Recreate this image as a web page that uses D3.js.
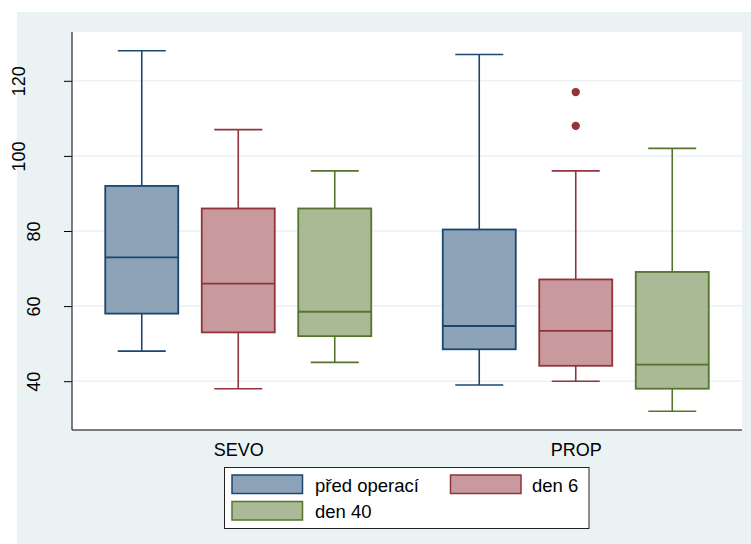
<!DOCTYPE html>
<html>
<head>
<meta charset="utf-8">
<script src="https://cdn.jsdelivr.net/npm/d3@7/dist/d3.min.js"></script>
<style>
  html, body { margin: 0; padding: 0; background: #ffffff; }
  svg { display: block; font-family: "Liberation Sans", Arial, Helvetica, sans-serif; }
</style>
</head>
<body>
<svg id="chart" width="751" height="544"></svg>
<script>
// ---- data ----
const categories = ["SEVO", "PROP"];
const seriesNames = ["před operací", "den 6", "den 40"];
// each entry: [lower whisker, Q1, median, Q3, upper whisker] per category
const predOperaci = [[48, 58, 73, 92, 128], [39, 48.5, 54.7, 80.4, 127]];
const den6 = [[38, 53, 66, 86, 107], [40, 44.1, 53.4, 67.1, 96]];
const den40 = [[45, 52, 58.5, 86, 96], [32, 38, 44.4, 69.1, 102]];
// outside values per category
const predOperaciOutliers = [[], []];
const den6Outliers = [[], [108, 117]];
const den40Outliers = [[], []];
const yTicks = [40, 60, 80, 100, 120];

const seriesStats = [predOperaci, den6, den40];
const seriesOutliers = [predOperaciOutliers, den6Outliers, den40Outliers];
const strokeColors = ["#1a476f", "#90353b", "#55752f"];
const fillColors = ["#8da3b8", "#c89a9d", "#aab996"];

const svg = d3.select("#chart");
const W = 751, H = 544;
const plot = { left: 72, right: 742, top: 32, bottom: 430 };

// outer graph region background
svg.append("rect").attr("x", 17).attr("y", 12).attr("width", W - 17).attr("height", H - 12)
  .attr("fill", "#eaf2f3");
// plot region
svg.append("rect").attr("x", plot.left).attr("y", plot.top)
  .attr("width", plot.right - plot.left).attr("height", plot.bottom - plot.top)
  .attr("fill", "#ffffff");

const y = d3.scaleLinear().domain([27, 133]).range([plot.bottom, plot.top]);
const x0 = d3.scalePoint().domain(categories).range([plot.left, plot.right]).padding(0.4926);
const x1 = d3.scaleBand().domain(seriesNames).range([-133, 133]).paddingInner(0.2435).paddingOuter(0);

// gridlines
svg.append("g").selectAll("line").data(yTicks).join("line")
  .attr("x1", plot.left).attr("x2", plot.right)
  .attr("y1", d => y(d)).attr("y2", d => y(d))
  .attr("stroke", "#eaf2f3").attr("stroke-width", 1.5);

// y axis
const yAxis = d3.axisLeft(y).tickValues(yTicks).tickSize(8).tickFormat(d3.format("d"));
const gy = svg.append("g").attr("transform", `translate(${plot.left},0)`).call(yAxis);
gy.select(".domain").remove();
gy.selectAll(".tick line").attr("stroke", "#000").attr("stroke-width", 1);
gy.selectAll(".tick text")
  .attr("font-size", "18px").attr("fill", "#000")
  .attr("text-anchor", "middle").attr("dy", null).attr("x", null)
  .attr("transform", d => `translate(${String(d).length >= 3 ? -47 : -32},0) rotate(-90)`);

// axis lines
svg.append("line").attr("x1", plot.left).attr("x2", plot.left).attr("y1", plot.top).attr("y2", plot.bottom)
  .attr("stroke", "#000").attr("stroke-width", 1);
svg.append("line").attr("x1", plot.left).attr("x2", plot.right).attr("y1", plot.bottom).attr("y2", plot.bottom)
  .attr("stroke", "#000").attr("stroke-width", 1.2);

// x axis labels
const xAxis = d3.axisBottom(x0).tickSize(0).tickPadding(13);
const gx = svg.append("g").attr("transform", `translate(0,${plot.bottom})`).call(xAxis);
gx.select(".domain").remove();
gx.selectAll(".tick text").attr("font-size", "18px").attr("fill", "#000").attr("dy", "0.71em");

// boxes
const bw = x1.bandwidth();
const capW = 48;
categories.forEach((cat, ci) => {
  seriesNames.forEach((s, si) => {
    const [lo, q1, med, q3, hi] = seriesStats[si][ci];
    const cx = x0(cat) + x1(s) + bw / 2;
    const g = svg.append("g");
    const sc = strokeColors[si];
    // whiskers
    g.append("line").attr("x1", cx).attr("x2", cx).attr("y1", y(q3)).attr("y2", y(hi))
      .attr("stroke", sc).attr("stroke-width", 1.6);
    g.append("line").attr("x1", cx).attr("x2", cx).attr("y1", y(q1)).attr("y2", y(lo))
      .attr("stroke", sc).attr("stroke-width", 1.6);
    g.append("line").attr("x1", cx - capW / 2).attr("x2", cx + capW / 2).attr("y1", y(hi)).attr("y2", y(hi))
      .attr("stroke", sc).attr("stroke-width", 1.6);
    g.append("line").attr("x1", cx - capW / 2).attr("x2", cx + capW / 2).attr("y1", y(lo)).attr("y2", y(lo))
      .attr("stroke", sc).attr("stroke-width", 1.6);
    // box
    g.append("rect").attr("x", cx - bw / 2).attr("width", bw)
      .attr("y", y(q3)).attr("height", y(q1) - y(q3))
      .attr("fill", fillColors[si]).attr("stroke", sc).attr("stroke-width", 1.8);
    g.append("line").attr("x1", cx - bw / 2).attr("x2", cx + bw / 2).attr("y1", y(med)).attr("y2", y(med))
      .attr("stroke", sc).attr("stroke-width", 1.8);
    // outliers
    g.selectAll("circle").data(seriesOutliers[si][ci]).join("circle")
      .attr("cx", cx).attr("cy", d => y(d)).attr("r", 4.2).attr("fill", sc);
  });
});

// legend
const lg = svg.append("g");
lg.append("rect").attr("x", 224.5).attr("y", 467.5).attr("width", 364.5).attr("height", 61)
  .attr("fill", "#ffffff").attr("stroke", "#222").attr("stroke-width", 1);
const legendPos = [
  { kx: 232, ky: 475, tx: 315, ty: 492 },
  { kx: 450.5, ky: 475, tx: 532, ty: 492 },
  { kx: 232, ky: 501.5, tx: 315, ty: 518 }
];
seriesNames.forEach((s, si) => {
  const p = legendPos[si];
  lg.append("rect").attr("x", p.kx).attr("y", p.ky).attr("width", 70.5).attr("height", 18.5)
    .attr("fill", fillColors[si]).attr("stroke", strokeColors[si]).attr("stroke-width", 1.5);
  lg.append("text").attr("x", p.tx).attr("y", p.ty).attr("font-size", "18.5px").attr("fill", "#000").text(s);
});
</script>
</body>
</html>
